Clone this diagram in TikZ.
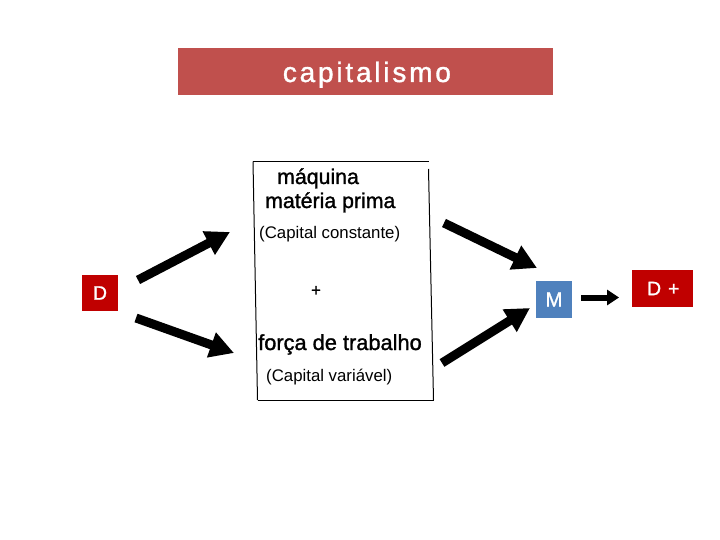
\documentclass[tikz,border=0pt]{standalone}
\usepackage{fontspec}
\setmainfont{Liberation Sans}
\newfontfamily\semifont[FakeBold=1.3]{Liberation Sans}
\newfontfamily\spacedfont[LetterSpace=10,FakeBold=1.3]{Liberation Sans}
\newfontfamily\dplusfont[LetterSpace=8,FakeBold=1.3]{Liberation Sans}
\usetikzlibrary{arrows.meta}
\definecolor{titlered}{HTML}{C0504D}
\definecolor{dred}{HTML}{C00000}
\definecolor{mblue}{HTML}{4F81BD}
\tikzset{
  bigarrow/.style={line width=9pt,-{Triangle[length=24pt,width=25pt]}},
  smallarrow/.style={line width=6pt,-{Triangle[length=12pt,width=15pt]}},
  framel/.style={line width=1pt,black},
  txtbig/.style={inner sep=0pt,anchor=base west,font=\semifont\fontsize{21.3}{25}\selectfont},
  txtsmall/.style={inner sep=0pt,anchor=base west,font=\fontsize{16.8}{20}\selectfont},
  letterbox/.style={inner sep=0pt,text=white,font=\semifont\fontsize{19.5}{22}\selectfont},
}
\begin{document}
\begin{tikzpicture}[x=1pt,y=-1pt]
\useasboundingbox[fill=white] (0,0) rectangle (720,540);
% title
\node[fill=titlered,inner sep=0pt,anchor=base,minimum width=375pt,text height=34pt,text depth=13pt,
      text=white,font=\spacedfont\fontsize{28}{32}\selectfont] (title) at (365.5,82) {\hspace*{2.8pt}capitalismo};
% D, M, D+
\node[letterbox,fill=dred,minimum width=36pt,minimum height=36pt] (D) at (100,293) {D};
\node[letterbox,fill=mblue,minimum width=36pt,minimum height=37pt,font=\semifont\fontsize{20.5}{24}\selectfont] (M) at (554,299.5) {M};
\node[letterbox,fill=dred,minimum width=61pt,minimum height=37pt,font=\dplusfont\fontsize{19.5}{22}\selectfont] (Dplus) at (662.5,288.5) {\hspace*{1.5pt}D +};
% frame
\coordinate (f1) at (253,161.5);
\coordinate (f2) at (429,161.5);
\coordinate (f3) at (428.5,169);
\coordinate (f4) at (433.5,400);
\coordinate (f5) at (257.5,400);
\coordinate (f6) at (434,400);
\draw[framel] (f1) -- (f2);
\draw[framel] (f1) -- (f5);
\draw[framel] (f3) -- (f4);
\draw[framel] (f5) -- (f6);
% texts
\node[txtbig] (maq) at (277,184) {máquina};
\node[txtbig] (mat) at (265,208) {matéria prima};
\node[txtsmall] (cc) at (259,239) {(Capital constante)};
\node[inner sep=0pt,font=\semifont\fontsize{17}{20}\selectfont] (plus) at (316,291) {+};
\node[txtbig,font=\semifont\fontsize{21.8}{25}\selectfont] (ft) at (258,350) {força de trabalho};
\node[txtsmall] (cv) at (266,381) {(Capital variável)};
% arrows
\coordinate (a1s) at (138,280); \coordinate (a1e) at (230,232);
\coordinate (a2s) at (136,318); \coordinate (a2e) at (234,353);
\coordinate (a3s) at (444,223); \coordinate (a3e) at (537,268);
\coordinate (a4s) at (442,363); \coordinate (a4e) at (530,308);
\coordinate (a5s) at (581,297.5); \coordinate (a5e) at (619,297.5);
\draw[bigarrow] (a1s) -- (a1e);
\draw[bigarrow] (a2s) -- (a2e);
\draw[bigarrow] (a3s) -- (a3e);
\draw[bigarrow] (a4s) -- (a4e);
\draw[smallarrow] (a5s) -- (a5e);
\end{tikzpicture}
\end{document}
